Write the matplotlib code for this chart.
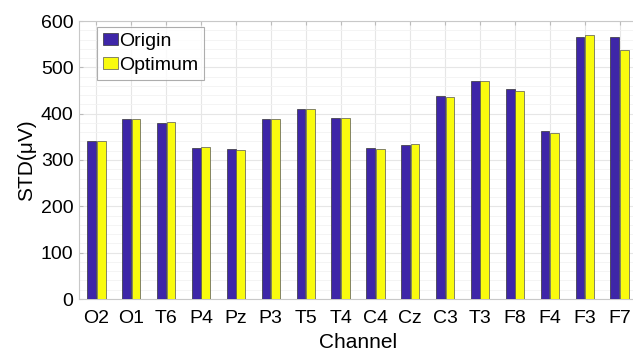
import numpy as np
import matplotlib.pyplot as plt
from matplotlib.ticker import MultipleLocator

channels = ['O2', 'O1', 'T6', 'P4', 'Pz', 'P3', 'T5', 'T4',
            'C4', 'Cz', 'C3', 'T3', 'F8', 'F4', 'F3', 'F7']
origin = [342, 388, 380, 325, 324, 389, 411, 391,
          325, 333, 438, 470, 453, 363, 565, 565]
optimum = [342, 388, 381, 329, 321, 389, 411, 391,
           324, 334, 435, 470, 448, 359, 570, 537]

plt.rcParams['font.family'] = ['Liberation Sans', 'DejaVu Sans']

fig = plt.figure(figsize=(6.33, 3.51), dpi=100)
W, H = 633, 351
ax = fig.add_axes([79 / W, 1 - 299 / H, 558 / W, 278 / H])

x = np.arange(1, len(channels) + 1)
bw = 0.25
ax.bar(x - 0.135, origin, bw, color='#3e26a8', edgecolor='#333333',
       linewidth=0.5, label='Origin', zorder=3)
ax.bar(x + 0.135, optimum, bw, color='#f9fb0e', edgecolor='#555555',
       linewidth=0.5, label='Optimum', zorder=3)

ax.set_xlim(0.5, 16.5)
ax.set_ylim(0, 600)
ax.set_xticks(x)
ax.set_xticklabels(channels)
ax.yaxis.set_major_locator(MultipleLocator(100))
ax.yaxis.set_minor_locator(MultipleLocator(20))
ax.grid(True, which='major', color='#e6e6e6', linewidth=0.8, zorder=0)
ax.grid(True, which='minor', axis='y', color='#f2f2f2', linewidth=0.6, zorder=0)
ax.tick_params(axis='both', which='both', direction='in', labelsize=14,
               color='#bbbbbb', length=3, top=True, right=True)
ax.tick_params(axis='x', pad=8)
ax.tick_params(axis='y', pad=4)
ax.tick_params(axis='y', which='minor', length=0)
for s in ax.spines.values():
    s.set_color('#c8c8c8')
    s.set_linewidth(0.8)

ax.set_ylabel('STD(μV)', fontsize=15, labelpad=3)
ax.set_xlabel('Channel', fontsize=15, labelpad=4)

leg = ax.legend(loc='upper left', bbox_to_anchor=(0.032, 0.978), fontsize=14,
                frameon=True, fancybox=False, edgecolor='#999999',
                handlelength=0.8, handleheight=0.6, handletextpad=0.05,
                borderpad=0.3, labelspacing=0.35, borderaxespad=0)
leg.get_frame().set_linewidth(0.8)

fig.savefig('out.png', dpi=100)
